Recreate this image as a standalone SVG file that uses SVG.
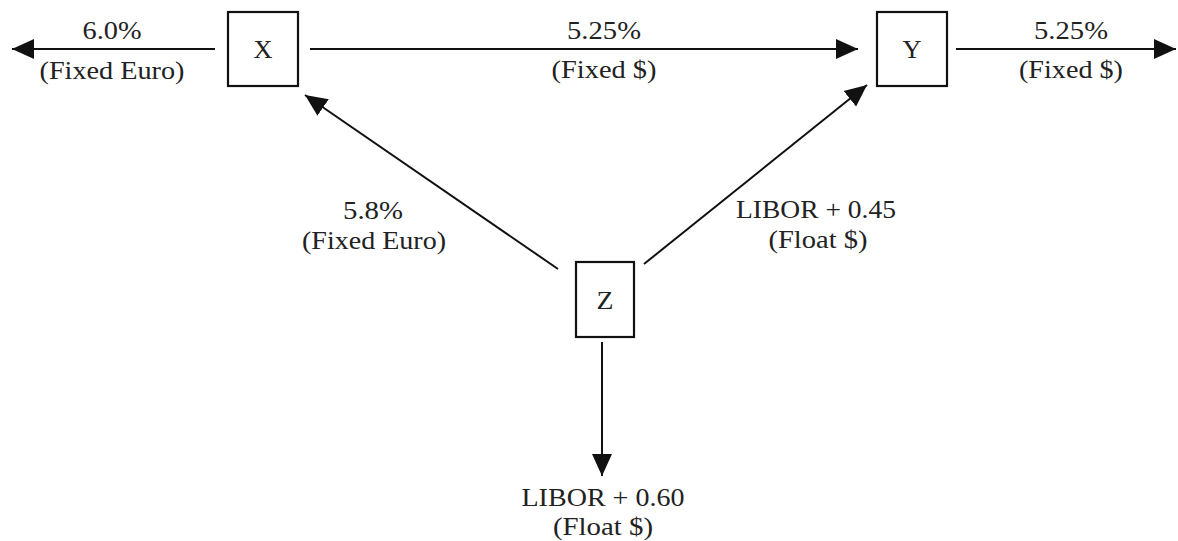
<svg xmlns="http://www.w3.org/2000/svg" width="1178" height="541" viewBox="0 0 1178 541">
<style>
text{font-family:"Liberation Serif","Times New Roman",serif;font-size:25px;fill:#222;text-anchor:middle}
.box{fill:#fff;stroke:#111;stroke-width:2.2}
.ln{stroke:#111;stroke-width:2;fill:none;marker-end:url(#ah)}
</style>
<defs>
<marker id="ah" markerUnits="userSpaceOnUse" markerWidth="22" markerHeight="22" refX="22" refY="11" orient="auto">
<path d="M0,1 L22,11 L0,21 z" fill="#111"/>
</marker>
</defs>
<rect width="1178" height="541" fill="#fff"/>
<g id="connectors">
<line class="ln" x1="215" y1="49" x2="12" y2="49"/>
<line class="ln" x1="310" y1="49" x2="858" y2="49"/>
<line class="ln" x1="956" y1="49" x2="1176" y2="49"/>
<line class="ln" x1="558" y1="269" x2="305" y2="95"/>
<line class="ln" x1="644" y1="264" x2="867" y2="85"/>
<line class="ln" x1="602" y1="342" x2="602" y2="476"/>
</g>
<g id="labels">
<text x="112" y="39" textLength="59" lengthAdjust="spacingAndGlyphs">6.0%</text>
<text x="112" y="79" textLength="145" lengthAdjust="spacingAndGlyphs">(Fixed Euro)</text>
<text x="604" y="39" textLength="74" lengthAdjust="spacingAndGlyphs">5.25%</text>
<text x="604" y="78" textLength="105" lengthAdjust="spacingAndGlyphs">(Fixed $)</text>
<text x="1071" y="39" textLength="74" lengthAdjust="spacingAndGlyphs">5.25%</text>
<text x="1071" y="78" textLength="104" lengthAdjust="spacingAndGlyphs">(Fixed $)</text>
<text x="373" y="219" textLength="60" lengthAdjust="spacingAndGlyphs">5.8%</text>
<text x="374" y="249" textLength="144" lengthAdjust="spacingAndGlyphs">(Fixed Euro)</text>
<text x="816" y="218" textLength="160" lengthAdjust="spacingAndGlyphs">LIBOR + 0.45</text>
<text x="818" y="248" textLength="99" lengthAdjust="spacingAndGlyphs">(Float $)</text>
<text x="603" y="506" textLength="163" lengthAdjust="spacingAndGlyphs">LIBOR + 0.60</text>
<text x="603" y="535" textLength="100" lengthAdjust="spacingAndGlyphs">(Float $)</text>
</g>
<g id="node-X">
<rect class="box" x="228" y="12" width="70" height="74"/>
<text x="263" y="58" textLength="19" lengthAdjust="spacingAndGlyphs">X</text>
</g>
<g id="node-Y">
<rect class="box" x="877" y="12" width="70" height="74"/>
<text x="912" y="58" textLength="19" lengthAdjust="spacingAndGlyphs">Y</text>
</g>
<g id="node-Z">
<rect class="box" x="576" y="262" width="58" height="75"/>
<text x="605" y="309" textLength="17" lengthAdjust="spacingAndGlyphs">Z</text>
</g>
</svg>
